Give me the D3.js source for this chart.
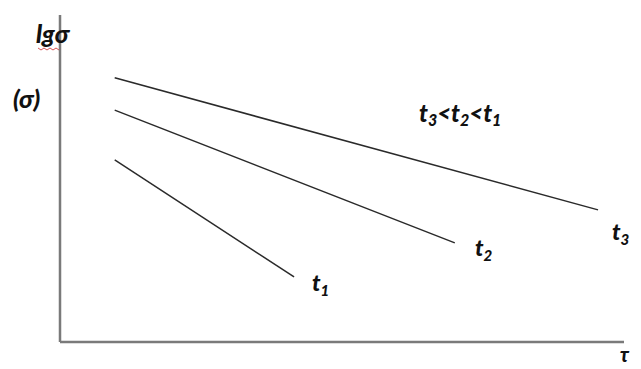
<!DOCTYPE html>
<html>
<head>
<meta charset="utf-8">
<script src="https://cdn.jsdelivr.net/npm/d3@7/dist/d3.min.js"></script>
<style>
  html, body { margin: 0; padding: 0; background: #fff; }
  svg { display: block; }
  text { font-family: Lato, "Open Sans", "Liberation Sans", sans-serif; font-weight: 900; font-style: italic; fill: #111; }
</style>
</head>
<body>
<svg id="chart" width="641" height="369"></svg>
<script>
// Creep lines: lg σ against τ at three temperatures
const series = ["t3", "t2", "t1"];
const startX = [0.97, 0.97, 0.97];
const startY = [8.08, 7.09, 5.57];
const endX = [9.54, 7.0, 4.15];
const endY = [4.04, 3.03, 1.99];
const labelSub = ["3", "2", "1"];

const svg = d3.select("#chart");
const x = d3.scaleLinear().domain([0, 10]).range([60, 624]);
const y = d3.scaleLinear().domain([0, 10]).range([342, 15]);

// axes (no ticks)
const axisColor = "#7a7a7a";
svg.append("line")
  .attr("x1", x(0)).attr("x2", x(0))
  .attr("y1", y(10)).attr("y2", y(0))
  .attr("stroke", axisColor).attr("stroke-width", 2.5);
svg.append("line")
  .attr("x1", x(0)).attr("x2", x(10))
  .attr("y1", y(0)).attr("y2", y(0))
  .attr("stroke", axisColor).attr("stroke-width", 2.5);

// the three lines
const rows = series.map((s, i) => ({ s, x1: startX[i], y1: startY[i], x2: endX[i], y2: endY[i], sub: labelSub[i] }));
svg.selectAll("line.curve").data(rows).enter().append("line")
  .attr("class", "curve")
  .attr("x1", d => x(d.x1)).attr("y1", d => y(d.y1))
  .attr("x2", d => x(d.x2)).attr("y2", d => y(d.y2))
  .attr("stroke", "#2a2a2a").attr("stroke-width", 1.5);

// end labels
const labelPos = [[612, 240], [475, 256], [312, 291]];
rows.forEach((d, i) => {
  const t = svg.append("text").attr("x", labelPos[i][0]).attr("y", labelPos[i][1]).attr("font-size", 23);
  t.append("tspan").text("t");
  t.append("tspan").attr("dy", 5).attr("font-size", 15).text(d.sub);
});

// ordering note
const note = svg.append("text").attr("x", 419).attr("y", 122).attr("font-size", 24);
note.append("tspan").text("t");
note.append("tspan").attr("dy", 4).attr("font-size", 16).text("3");
note.append("tspan").attr("dy", -4).text("<t");
note.append("tspan").attr("dy", 4).attr("font-size", 16).text("2");
note.append("tspan").attr("dy", -4).text("<t");
note.append("tspan").attr("dy", 4).attr("font-size", 16).text("1");

// axis titles
svg.append("text").attr("x", 36).attr("y", 43).attr("font-size", 25).text("lgσ");
svg.append("text").attr("x", 13).attr("y", 108).attr("font-size", 25).text("(σ)");
svg.append("text").attr("x", 620).attr("y", 362).attr("font-size", 20).text("τ");

// wavy underline beneath "lg"
const wave = d3.range(0, 8).map(k => [38 + k * 3, k % 2 ? 50 : 48]);
svg.append("path")
  .attr("d", d3.line()(wave))
  .attr("fill", "none").attr("stroke", "#d04040").attr("stroke-width", 0.9);
</script>
</body>
</html>
